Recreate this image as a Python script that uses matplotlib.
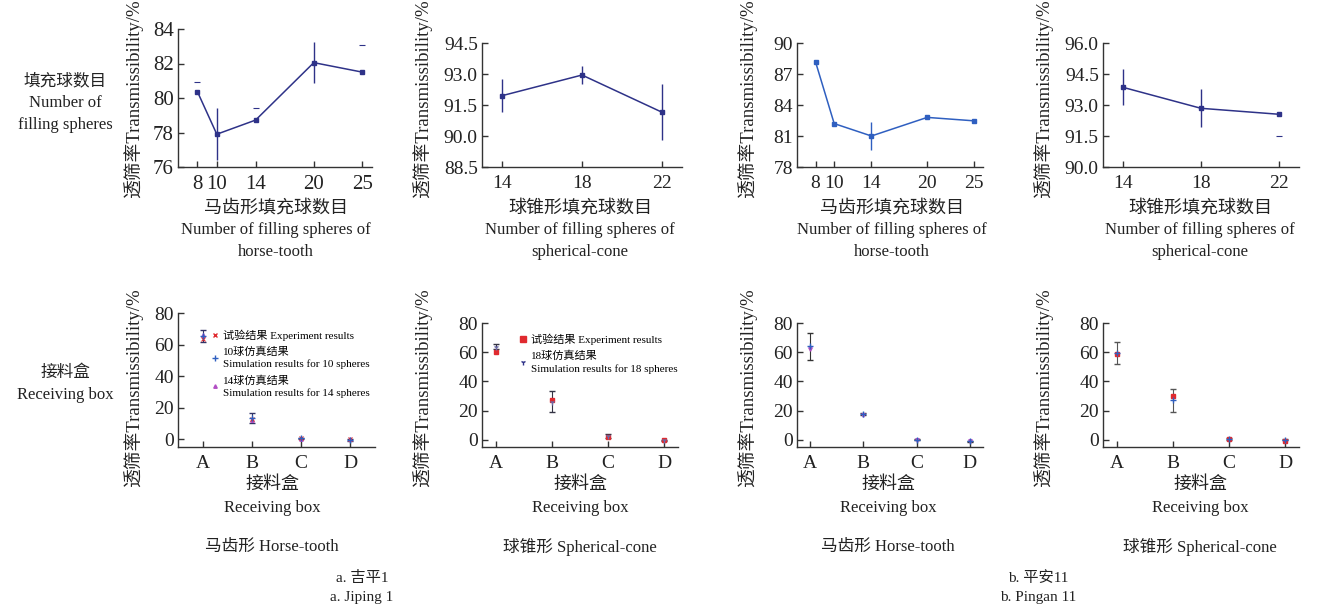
import matplotlib
matplotlib.use('Agg')
import matplotlib.pyplot as plt
from matplotlib.lines import Line2D

plt.rcParams['font.family'] = ['Liberation Serif', 'Noto Sans CJK SC']
plt.rcParams['axes.unicode_minus'] = False

W, H = 1322, 616

# ---- top row: transmissibility vs number of filling spheres ----
ht_x = [8, 10, 14, 20, 25]
jp_ht_y = [80.37, 77.9, 78.72, 82.05, 81.5]
jp_ht_err = [0, 1.5, 0, 1.2, 0]
jp_ht_stray = [80.91, None, 79.4, None, 83.09]

sc_x = [14, 18, 22]
jp_sc_y = [91.95, 92.95, 91.15]
jp_sc_err = [0.8, 0.45, 1.35]

pa_ht_y = [88.15, 82.2, 81.0, 82.8, 82.47]
pa_ht_err = [0, 0, 1.35, 0, 0]

pa_sc_y = [93.86, 92.84, 92.55]
pa_sc_err = [0.87, 0.92, 0]
pa_sc_stray = [None, None, 91.5]

# ---- bottom row: receiving boxes ----
boxes = ['A', 'B', 'C', 'D']
jp_ht_exp = [63.5, 13.0, 0.5, 0.0]
jp_ht_sim10 = [65.5, 13.5, 0.5, -0.5]
jp_ht_sim10_err = [4.0, 3.0, 0.5, 0.5]
jp_ht_sim14 = [66.0, 12.0, 0.3, 0.2]

jp_sc_exp = [60.2, 27.4, 2.0, 0.0]
jp_sc_sim18 = [63.8, 26.0, 2.5, -0.3]
jp_sc_sim18_err = [1.5, 7.2, 1.5, 0.3]

pa_ht_exp = [62.0, 17.0, 0.0, -1.0]
pa_ht_sim = [64.0, 17.5, 0.0, -1.0]
pa_ht_sim_err = [9.3, 0.5, 0.3, 0.3]

pa_sc_exp = [58.5, 30.0, 0.5, -1.0]
pa_sc_sim = [59.5, 27.0, 0.5, 0.0]
pa_sc_sim_err = [7.4, 7.7, 0.4, 0.3]

RED = '#e02a2f'
NAVY = '#2e3288'
BLUE = '#2f5fc0'
PURPLE = '#b24fc4'


def fx(x):
    return x / W


def fy(y):
    return 1 - y / H


def make_ax(fig, l, t, r, b):
    ax = fig.add_axes([fx(l), fy(b), fx(r) - fx(l), (b - t) / H])
    for s in ['top', 'right']:
        ax.spines[s].set_visible(False)
    for s in ['left', 'bottom']:
        ax.spines[s].set_linewidth(1.0)
        ax.spines[s].set_color('#333333')
    ax.tick_params(direction='in', length=4.5, width=1.0, colors='#333333',
                   labelcolor='#222222')
    ax.tick_params(axis='x', pad=6)
    ax.tick_params(axis='y', pad=3)
    ax.set_facecolor('none')
    return ax


def ftext(fig, x, y, s, size=12, **kw):
    fig.text(fx(x), fy(y), s, fontsize=size, ha='center', va='center',
             color='#222222', **kw)


fig = plt.figure(figsize=(W / 100, H / 100), dpi=100)

# ---------------- top row ----------------
top_specs = [
    (178, 29, 372, 167, ht_x, jp_ht_y, jp_ht_err, NAVY, (6, 26), (76, 84), [76, 78, 80, 82, 84], '%d', 15),
    (482, 43, 682, 167, sc_x, jp_sc_y, jp_sc_err, NAVY, (13, 23), (88.5, 94.5), [88.5, 90.0, 91.5, 93.0, 94.5], '%.1f', 14),
    (797, 43, 983, 167, ht_x, pa_ht_y, pa_ht_err, BLUE, (6, 26), (78, 90), [78, 81, 84, 87, 90], '%d', 14),
    (1103, 43, 1299, 167, sc_x, pa_sc_y, pa_sc_err, NAVY, (13, 23), (90, 96), [90.0, 91.5, 93.0, 94.5, 96.0], '%.1f', 14),
]
top_axes = []
for l, t, r, b, xs, ys, es, col, xl, yl, yt, fmt, fs in top_specs:
    ax = make_ax(fig, l, t, r, b)
    ax.errorbar(xs, ys, yerr=es, color=col, lw=1.1, marker='s', ms=3.2,
                elinewidth=1.0, capsize=0, clip_on=False)
    ax.set_xlim(*xl)
    ax.set_ylim(*yl)
    ax.set_xticks(xs)
    ax.set_yticks(yt)
    ax.set_yticklabels([fmt % v for v in yt])
    ax.tick_params(labelsize=fs)
    top_axes.append(ax)

# stray cap marks
for ax, xs, st, col in [(top_axes[0], ht_x, jp_ht_stray, NAVY),
                        (top_axes[3], sc_x, pa_sc_stray, NAVY)]:
    px = [x for x, v in zip(xs, st) if v is not None]
    py = [v for v in st if v is not None]
    ax.plot(px, py, ls='none', marker='_', ms=4, color=col, mew=0.8, clip_on=False)

# ---------------- bottom row ----------------
bot_specs = [(178, 313, 375, 447, (-0.5, 3.5), 14),
             (482, 323, 678, 447, (-0.25, 3.25), 14),
             (797, 323, 983, 447, (-0.25, 3.25), 14),
             (1103, 323, 1299, 447, (-0.25, 3.25), 14)]
bot_axes = []
for l, t, r, b, xl, fs in bot_specs:
    ax = make_ax(fig, l, t, r, b)
    ax.set_xlim(*xl)
    ax.set_ylim(-5, 80)
    ax.set_xticks(range(len(boxes)))
    ax.set_xticklabels(boxes)
    ax.set_yticks([0, 20, 40, 60, 80])
    ax.tick_params(labelsize=fs)
    bot_axes.append(ax)

xb = list(range(len(boxes)))
leg_kw = dict(loc='upper left', frameon=False, fontsize=8, handlelength=0.6,
              handletextpad=0.4, borderaxespad=0, labelspacing=0.5)

# Jiping, horse-tooth
ax = bot_axes[0]
ax.errorbar(xb, jp_ht_sim10, yerr=jp_ht_sim10_err, ls='none', marker='+', ms=4,
            color=BLUE, ecolor='#333366', elinewidth=0.8, capsize=2)
ax.plot(xb, jp_ht_sim14, ls='none', marker='^', ms=2.5, color=PURPLE)
ax.plot(xb, jp_ht_exp, ls='none', marker='x', ms=2.5, color=RED, mew=0.8)
h = [Line2D([], [], ls='none', marker='x', ms=2.5, color=RED),
     Line2D([], [], ls='none', marker='+', ms=5, color=BLUE),
     Line2D([], [], ls='none', marker='^', ms=2.5, color=PURPLE)]
leg = ax.legend(h, ['试验结果 Experiment results',
                    '10球仿真结果\nSimulation results for 10 spheres',
                    '14球仿真结果\nSimulation results for 14 spheres'],
                bbox_to_anchor=(0.15, 0.91), **leg_kw)
for t in leg.get_texts():
    t.set_linespacing(1.35)

# Jiping, spherical-cone
ax = bot_axes[1]
ax.errorbar(xb, jp_sc_sim18, yerr=jp_sc_sim18_err, ls='none', marker='1', ms=4,
            color='#6a6aa8', ecolor='#333344', elinewidth=0.8, capsize=2)
ax.plot(xb, jp_sc_exp, ls='none', marker='s', ms=2.5, color=RED)
h = [Line2D([], [], ls='none', marker='s', ms=4, color=RED),
     Line2D([], [], ls='none', marker='1', ms=4, color=NAVY)]
leg = ax.legend(h, ['试验结果 Experiment results',
                    '18球仿真结果\nSimulation results for 18 spheres'],
                bbox_to_anchor=(0.17, 0.95), **leg_kw)
for t in leg.get_texts():
    t.set_linespacing(1.35)

# Pingan, horse-tooth
ax = bot_axes[2]
ax.errorbar(xb, pa_ht_sim, yerr=pa_ht_sim_err, ls='none', marker='+', ms=4,
            color=BLUE, ecolor='#333333', elinewidth=0.8, capsize=2)
ax.plot(xb, pa_ht_exp, ls='none', marker='v', ms=2.5, color=PURPLE)

# Pingan, spherical-cone
ax = bot_axes[3]
ax.errorbar(xb, pa_sc_sim, yerr=pa_sc_sim_err, ls='none', marker='+', ms=4,
            color=BLUE, ecolor='#555555', elinewidth=0.8, capsize=2)
ax.plot(xb, pa_sc_exp, ls='none', marker='s', ms=2.5, color=RED)

# ---------------- labels ----------------
ylab = '透筛率Transmissibility/%'
for x, y in [(133, 99), (422, 99), (747, 99), (1043, 99),
             (133, 388), (422, 388), (747, 388), (1043, 388)]:
    ftext(fig, x, y, ylab, size=13.5, rotation=90)

top_cn = ['马齿形填充球数目', '球锥形填充球数目', '马齿形填充球数目', '球锥形填充球数目']
top_en1 = 'Number of filling spheres of'
top_en2 = ['horse-tooth', 'spherical-cone', 'horse-tooth', 'spherical-cone']
centres = [276, 580, 892, 1200]
for cx, cn, en2 in zip(centres, top_cn, top_en2):
    ftext(fig, cx, 208, cn, size=13)
    ftext(fig, cx, 230, top_en1, size=12)
    ftext(fig, cx, 252, en2, size=12)

subtitles = ['马齿形 Horse-tooth', '球锥形 Spherical-cone',
             '马齿形 Horse-tooth', '球锥形 Spherical-cone']
for cx, sub in zip([272, 580, 888, 1200], subtitles):
    ftext(fig, cx, 484, '接料盒', size=13)
    ftext(fig, cx, 508, 'Receiving box', size=12)
    ftext(fig, cx, 547, sub, size=12)

ftext(fig, 65, 81, '填充球数目', size=12)
ftext(fig, 65, 103, 'Number of', size=12)
ftext(fig, 65, 125, 'filling spheres', size=12)
ftext(fig, 65, 373, '接料盒', size=12)
ftext(fig, 65, 395, 'Receiving box', size=12)

ftext(fig, 362, 578, 'a. 吉平1', size=11)
ftext(fig, 362, 598, 'a. Jiping 1', size=11)
ftext(fig, 1038, 578, 'b. 平安11', size=11)
ftext(fig, 1038, 598, 'b. Pingan 11', size=11)

fig.savefig('out.png', dpi=100, facecolor='white')
